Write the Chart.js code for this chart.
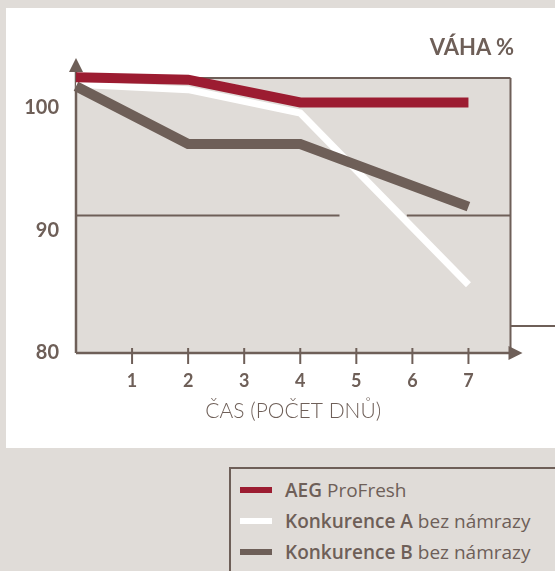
<!DOCTYPE html>
<html>
<head>
<meta charset="utf-8">
<script src="https://cdn.jsdelivr.net/npm/chart.js@4"></script>
<style>
  html, body { margin: 0; padding: 0; }
  body { width: 555px; height: 571px; background: #e0dcd8; position: relative; overflow: hidden; font-family: Lato, "Noto Sans", sans-serif; color: #6e5f58; }
  #panel { position: absolute; left: 6px; top: 8px; width: 549px; height: 440px; background: #fff; }
  #chart { position: absolute; left: 0; top: 0; }
  #unit { position: absolute; right: 41px; top: 34px; line-height: 26px; font-size: 22px; font-weight: 700; }
  #legend { position: absolute; left: 229px; top: 467px; right: -10px; bottom: -10px; border-left: 2px solid #6e5f58; border-top: 2px solid #6e5f58; padding-top: 5px; font-family: "Open Sans", Lato, sans-serif; }
  .row { display: flex; align-items: center; height: 31px; font-size: 19px; white-space: nowrap; }
  .swatch { width: 32px; height: 6px; margin-left: 9px; margin-right: 13px; flex: none; }
  .row b { font-weight: 600; margin-right: 5px; }
</style>
</head>
<body>
<div id="panel"></div>
<canvas id="chart" width="555" height="448"></canvas>
<div id="unit">VÁHA %</div>
<div id="legend"></div>
<script>
const days = [0, 2, 4, 7];
const dayTicks = [1, 2, 3, 4, 5, 6, 7];
const weightTicks = [80, 90, 100];

const aegValues = [102.49, 102.28, 100.43, 100.43];
const rivalAValues = [101.9, 101.47, 99.57, 85.57];
const rivalBValues = [101.75, 97.04, 97.04, 91.93];

const seriesNames = ['AEG', 'Konkurence A', 'Konkurence B'];
const seriesNotes = ['ProFresh', 'bez námrazy', 'bez námrazy'];

const ink = '#6e5f58';
const red = '#9c1c31';
const plotFill = '#e0dcd8';

function points(values) {
  return days.map((d, i) => ({x: d, y: values[i]}));
}

const decor = {
  id: 'decor',
  beforeDatasetsDraw(chart) {
    const {ctx, chartArea: a, scales: {x, y}} = chart;
    const line = (x1, y1, x2, y2) => {
      ctx.beginPath(); ctx.moveTo(x1, y1); ctx.lineTo(x2, y2); ctx.stroke();
    };
    ctx.save();
    ctx.fillStyle = plotFill;
    ctx.fillRect(a.left, a.top, a.right - a.left, a.bottom - a.top);
    ctx.strokeStyle = ink;
    ctx.fillStyle = ink;
    ctx.lineWidth = 2;
    // guide line, broken where the white line passes
    const gy = y.getPixelForValue(91.2);
    line(a.left, gy, x.getPixelForValue(4.7), gy);
    line(x.getPixelForValue(5.9), gy, a.right, gy);
    line(a.left, a.top, a.right, a.top);
    line(a.right, a.top, a.right, a.bottom);
    const sy = y.getPixelForValue(82.2);
    line(a.right, sy, chart.width, sy);
    // axes with arrows
    ctx.lineWidth = 2.5;
    line(a.left, a.bottom, a.right, a.bottom);
    line(a.left, a.bottom, a.left, a.top - 8);
    ctx.beginPath();
    ctx.moveTo(a.left, a.top - 20); ctx.lineTo(a.left - 7, a.top - 6); ctx.lineTo(a.left + 7, a.top - 6);
    ctx.closePath(); ctx.fill();
    ctx.beginPath();
    ctx.moveTo(a.right + 12, a.bottom); ctx.lineTo(a.right - 2, a.bottom - 7); ctx.lineTo(a.right - 2, a.bottom + 7);
    ctx.closePath(); ctx.fill();
    ctx.lineWidth = 2;
    x.ticks.forEach(t => {
      const px = x.getPixelForValue(t.value);
      line(px, a.bottom - 5, px, a.bottom + 11);
    });
    ctx.restore();
  }
};

const chart = new Chart(document.getElementById('chart'), {
  type: 'line',
  data: {
    datasets: [
      {label: seriesNames[0], note: seriesNotes[0], data: points(aegValues), borderColor: red, borderWidth: 10, order: 0},
      {label: seriesNames[1], note: seriesNotes[1], data: points(rivalAValues), borderColor: '#ffffff', borderWidth: 7, order: 2},
      {label: seriesNames[2], note: seriesNotes[2], data: points(rivalBValues), borderColor: ink, borderWidth: 10, order: 1},
    ]
  },
  options: {
    responsive: false,
    animation: false,
    devicePixelRatio: 1,
    clip: false,
    elements: {
      point: {radius: 0},
      line: {tension: 0, borderJoinStyle: 'miter', borderCapStyle: 'butt'}
    },
    layout: {padding: {top: 78, right: 44.5, left: 0, bottom: 0}},
    plugins: {legend: {display: false}, tooltip: {enabled: false}},
    scales: {
      x: {
        type: 'linear',
        min: 0,
        max: 7.75,
        afterBuildTicks: s => { s.ticks = dayTicks.map(v => ({value: v})); },
        afterFit: s => { s.height = 95; },
        grid: {display: false, drawTicks: false},
        border: {display: false},
        ticks: {padding: 17, color: ink, font: {family: 'Lato', size: 18, weight: 'bold'}},
        title: {
          display: true,
          text: 'ČAS (POČET DNŮ)',
          color: ink,
          font: {family: 'Lato', size: 21, weight: '300'},
          padding: {top: 0, bottom: 24}
        }
      },
      y: {
        min: 80,
        max: 102.42,
        afterBuildTicks: s => { s.ticks = weightTicks.map(v => ({value: v})); },
        afterFit: s => { s.width = 76; },
        grid: {display: false, drawTicks: false},
        border: {display: false},
        ticks: {padding: 17, color: ink, font: {family: 'Lato', size: 20, weight: 'bold'}}
      }
    }
  },
  plugins: [decor]
});

const legend = document.getElementById('legend');
chart.data.datasets.forEach(ds => {
  const row = document.createElement('div');
  row.className = 'row';
  row.innerHTML = `<span class="swatch" style="background:${ds.borderColor}"></span><b>${ds.label}</b>${ds.note}`;
  legend.appendChild(row);
});
</script>
</body>
</html>
